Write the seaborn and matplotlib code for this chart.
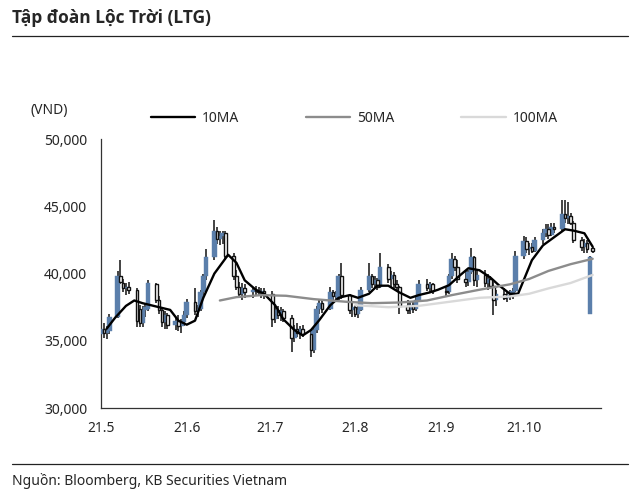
import matplotlib
matplotlib.use("Agg")
import matplotlib.pyplot as plt
from matplotlib.ticker import FuncFormatter
import seaborn as sns
import pandas as pd

# --- Dữ liệu giá LTG ---
holidays = ["2021-09-02", "2021-09-03"]
days = pd.bdate_range("2021-05-04", "2021-10-29")
days = days[~days.isin(pd.to_datetime(holidays))]

opens = [35500, 35900, 35600, 35700,
         36800, 39800, 39300, 38900, 39000,
         38800, 37400, 36300, 37300, 37400,
         39200, 38000, 37300, 36400, 36900,
         36200,
         36500, 36100, 36400, 36900,
         37900, 37200, 37400, 38600, 39800,
         41200, 43200, 42600, 42800, 43000,
         41300, 39800, 39000, 38500, 38900,
         38600, 38800, 38700, 38600, 38700,
         38500, 36600, 37300, 36900, 37200,
         36700, 35200, 35900, 35600, 35900,
         35500, 34300, 35800, 37400, 37800,
         37400, 38600, 38300, 38200, 39800,
         38400, 37300, 37500, 37000, 37300,
         38800, 39800, 39200, 39500, 39000,
         40500, 39600, 39900, 39200, 39000,
         37600, 37300, 37700, 37400, 38000,
         39200, 38900, 39200,
         38700, 38600, 39800, 41100, 40500,
         39600, 39400, 40100, 41200, 39500,
         39900, 39300, 39600, 39100, 38000,
         38500, 38200, 38400, 38300, 38700,
         41300, 42400, 41800, 42000, 41700,
         42500, 43000, 43300, 42900, 43500,
         43300, 44400, 44100, 44300, 43800,
         42500, 42000, 42300, 37000, 41900]
highs = [36200, 36300, 36100, 37000,
         40200, 41000, 39600, 39300, 39400,
         38900, 37700, 37600, 37800, 39500,
         39300, 38300, 37500, 37200, 37100,
         36800,
         36900, 36600, 37200, 38100,
         38900, 37700, 38800, 40000, 41800,
         44000, 43500, 43200, 43200, 43200,
         41500, 40300, 39400, 39300, 39200,
         39000, 39100, 39000, 38900, 38900,
         38700, 37600, 37600, 37500, 37400,
         36900, 36200, 36300, 36100, 36200,
         35700, 36000, 37600, 38000, 38100,
         39000, 38800, 38700, 40000, 40800,
         38500, 37800, 37700, 37600, 39000,
         40800, 40000, 39800, 39700, 41500,
         40700, 40200, 40100, 39500, 39100,
         38000, 37900, 37900, 38300, 39500,
         39600, 39400, 39300,
         39000, 40000, 41500, 41300, 41000,
         40200, 40300, 41900, 41300, 40300,
         40300, 40000, 39800, 39400, 38800,
         38900, 38700, 38800, 38900, 41700,
         42800, 42700, 42300, 42300, 42700,
         43300, 43700, 43700, 43800, 43800,
         45500, 45500, 45300, 44500, 43900,
         42700, 42600, 42500, 41300, 42000]
lows = [35100, 35200, 35100, 35500,
        36700, 39200, 38600, 38400, 38500,
        36000, 36000, 36000, 36800, 37200,
        37800, 37000, 36000, 35900, 35900,
        35800,
        35700, 35600, 36100, 36700,
        36900, 36800, 37200, 38400, 39500,
        41000, 42200, 42100, 42200, 41000,
        39500, 38800, 38200, 38000, 38200,
        38200, 38400, 38300, 38200, 38100,
        36000, 36300, 36600, 36500, 36400,
        34200, 34900, 35300, 35100, 35300,
        33800, 34100, 35600, 37000, 37100,
        37300, 38000, 37900, 38000, 38100,
        37000, 36800, 36800, 36700, 37200,
        38600, 38900, 38900, 38800, 38900,
        39300, 39000, 38900, 38700, 37000,
        37000, 37000, 37100, 37200, 37900,
        38700, 38600, 38500,
        38300, 38500, 39600, 40200, 39300,
        39000, 39100, 40000, 39100, 39000,
        39000, 38800, 38900, 36900, 37600,
        38000, 37900, 38000, 38100, 38600,
        41100, 41500, 41400, 41500, 41600,
        42200, 42700, 42600, 42800, 43000,
        43200, 43800, 43700, 43600, 42300,
        41700, 41500, 41500, 37000, 41500]
closes = [35900, 35600, 35700, 36800,
          39800, 39400, 38900, 39000, 38800,
          36500, 36300, 37300, 37500, 39300,
          38000, 37300, 36400, 36900, 36200,
          36500,
          36100, 36400, 36900, 37900,
          37200, 37400, 38600, 39800, 41200,
          43200, 42600, 42800, 43000, 41300,
          39800, 39000, 38500, 38900, 38600,
          38800, 38700, 38600, 38700, 38500,
          36600, 37300, 36900, 37200, 36700,
          35200, 35900, 35600, 35900, 35500,
          34300, 35800, 37400, 37800, 37400,
          38600, 38300, 38500, 39800, 38400,
          37300, 37500, 37000, 37300, 38800,
          39800, 39200, 39500, 39000, 40500,
          39600, 39900, 39200, 39000, 37600,
          37300, 37700, 37400, 38000, 39200,
          38900, 39200, 38700,
          38600, 39800, 41100, 40500, 39600,
          39400, 40100, 41200, 39500, 39900,
          39300, 39600, 39100, 38000, 38500,
          38200, 38400, 38300, 38700, 41300,
          42400, 41800, 42000, 41700, 42500,
          43000, 43300, 42900, 43500, 43300,
          44400, 44100, 44300, 43800, 42500,
          42000, 42300, 41800, 41200, 41700]

# --- Đường trung bình ---
ma10_dates = ["2021-05-06", "2021-05-09", "2021-05-13", "2021-05-16", "2021-05-19",
              "2021-05-22", "2021-05-25", "2021-05-29", "2021-06-01", "2021-06-04",
              "2021-06-07", "2021-06-10", "2021-06-14", "2021-06-19", "2021-06-22",
              "2021-06-25", "2021-06-29", "2021-07-02", "2021-07-06", "2021-07-09",
              "2021-07-13", "2021-07-16", "2021-07-19", "2021-07-22", "2021-07-26",
              "2021-07-29", "2021-08-02", "2021-08-05", "2021-08-09", "2021-08-12",
              "2021-08-16", "2021-08-20", "2021-08-24", "2021-08-27", "2021-08-31",
              "2021-09-03", "2021-09-07", "2021-09-11", "2021-09-14", "2021-09-18",
              "2021-09-22", "2021-09-25", "2021-09-29", "2021-10-02", "2021-10-04",
              "2021-10-07", "2021-10-11", "2021-10-15", "2021-10-19", "2021-10-22",
              "2021-10-26", "2021-10-29"]
ma10_vals = [35900, 36700, 37600, 38000, 37800,
             37650, 37500, 37300, 36500, 36200,
             36500, 38200, 40000, 41400, 40800,
             39500, 38800, 38500, 37650, 36600,
             35800, 35400, 35800, 36540, 37650,
             38200, 38400, 38200, 38500, 39100,
             39100, 38600, 38200, 38400, 38600,
             38800, 39140, 39880, 40400, 40250,
             39700, 39140, 38500, 38500, 39500,
             41000, 42100, 42700, 43300, 43200,
             43000, 42000]

ma50_dates = ["2021-06-16", "2021-06-22", "2021-07-01", "2021-07-10", "2021-07-20",
              "2021-08-01", "2021-08-10", "2021-08-20", "2021-08-30", "2021-09-08",
              "2021-09-18", "2021-09-29", "2021-10-06", "2021-10-13", "2021-10-21",
              "2021-10-29"]
ma50_vals = [38000, 38250, 38400, 38350, 38100,
             37900, 37800, 37850, 38000, 38400,
             38800, 39200, 39600, 40200, 40700,
             41100]

ma100_dates = ["2021-08-04", "2021-08-16", "2021-08-27", "2021-09-07", "2021-09-18",
               "2021-09-29", "2021-10-06", "2021-10-13", "2021-10-21", "2021-10-29"]
ma100_vals = [37650, 37500, 37600, 37900, 38200,
              38300, 38500, 38900, 39300, 39900]

tick_dates = ["2021-05-04", "2021-06-04", "2021-07-04", "2021-08-04", "2021-09-04", "2021-10-04"]
tick_labels = ["21.5", "21.6", "21.7", "21.8", "21.9", "21.10"]

BLUE = "#5b7fab"

sns.set_theme(style="white")
plt.rcParams["font.family"] = ["Noto Sans", "DejaVu Sans"]

fig = plt.figure(figsize=(6.4, 4.97), dpi=100)
ax = fig.add_axes([0.158, 0.179, 0.781, 0.541])

df = pd.DataFrame({"date": days, "open": opens, "high": highs, "low": lows, "close": closes})
up = df["close"] >= df["open"]

# nến: râu đen, thân xanh (tăng), thân trắng viền đen (giảm)
ax.vlines(df["date"], df["low"], df["high"], color="#111111", linewidth=1.1, zorder=2)
ax.bar(df["date"][up], (df["close"] - df["open"])[up], bottom=df["open"][up],
       width=1.7, color=BLUE, edgecolor=BLUE, linewidth=0.3, zorder=3)
ax.bar(df["date"][~up], (df["open"] - df["close"])[~up], bottom=df["close"][~up],
       width=0.9, color="white", edgecolor="#111111", linewidth=1.0, zorder=3)

ma = pd.concat([
    pd.DataFrame({"date": pd.to_datetime(ma10_dates), "val": ma10_vals, "ma": "10MA"}),
    pd.DataFrame({"date": pd.to_datetime(ma50_dates), "val": ma50_vals, "ma": "50MA"}),
    pd.DataFrame({"date": pd.to_datetime(ma100_dates), "val": ma100_vals, "ma": "100MA"}),
])
sns.lineplot(data=ma, x="date", y="val", hue="ma", ax=ax, linewidth=1.7,
             palette={"10MA": "#000000", "50MA": "#8c8c8c", "100MA": "#d9d9d9"},
             zorder=4)

ax.set_ylim(30000, 50000)
ax.set_yticks([30000, 35000, 40000, 45000, 50000])
ax.yaxis.set_major_formatter(FuncFormatter(lambda v, p: f"{v:,.0f}"))
ax.set_xlim(pd.Timestamp("2021-05-04"), pd.Timestamp("2021-11-01"))
ax.set_xticks(pd.to_datetime(tick_dates))
ax.set_xticklabels(tick_labels)
ax.set_xlabel("")
ax.set_ylabel("")

for s in ["top", "right"]:
    ax.spines[s].set_visible(False)
for s in ["left", "bottom"]:
    ax.spines[s].set_color("#333333")
    ax.spines[s].set_linewidth(0.9)
ax.tick_params(axis="y", direction="inout", length=8, width=0.9, color="#333333",
               labelsize=10, pad=6)
ax.tick_params(axis="x", direction="in", length=4, width=0.9, color="#333333",
               labelsize=10, pad=9)

ax.legend(loc="lower left", bbox_to_anchor=(0.088, 1.03), ncol=3, frameon=False,
          fontsize=10, handlelength=3.2, columnspacing=4.8, handletextpad=0.5,
          borderaxespad=0)

fig.text(0.047, 0.778, "(VND)", fontsize=10, ha="left", va="center")
fig.text(0.019, 0.963, "Tập đoàn Lộc Trời (LTG)", fontsize=12.5, fontweight="bold",
         family=["Open Sans", "DejaVu Sans"], ha="left", va="center")
fig.add_artist(plt.Line2D([0.019, 0.981], [0.927, 0.927], color="#222222", linewidth=0.9))
fig.add_artist(plt.Line2D([0.019, 0.981], [0.066, 0.066], color="#222222", linewidth=0.9))
fig.text(0.019, 0.032, "Nguồn: Bloomberg, KB Securities Vietnam", fontsize=10,
         ha="left", va="center")

fig.savefig("out.png", dpi=100)
